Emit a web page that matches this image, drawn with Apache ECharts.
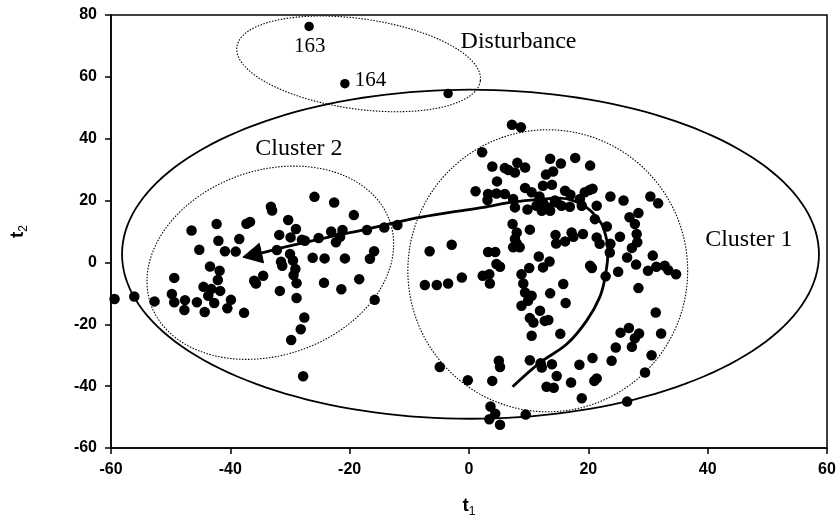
<!DOCTYPE html>
<html>
<head>
<meta charset="UTF-8">
<title>t1 / t2 score plot</title>
<script src="https://cdn.jsdelivr.net/npm/echarts@6/dist/echarts.min.js"></script>
<style>
  html, body { margin: 0; padding: 0; background: #fff; }
  #chart { width: 840px; height: 522px; }
</style>
</head>
<body>
<div id="chart"></div>
<script>
// tick labels
const xTicks = [-60, -40, -20, 0, 20, 40, 60];
const yTicks = [-60, -40, -20, 0, 20, 40, 60, 80];

// scores [t1, t2]
const disturbancePoints = [[-26.8, 76.3], [-20.8, 57.8], [-3.5, 54.6]];

const cluster2Points = [
  [-59.4, -11.8], [-56.1, -11.0], [-52.7, -12.6],
  [-46.5, 10.3], [-42.3, 12.4], [-37.3, 12.5], [-36.7, 13.1],
  [-42.0, 7.0], [-38.5, 7.6], [-45.2, 4.1], [-40.9, 3.6], [-39.1, 3.5],
  [-43.4, -1.3], [-41.8, -2.7], [-42.1, -5.7], [-49.4, -5.0],
  [-44.5, -7.9], [-43.2, -8.6], [-41.7, -9.2], [-43.7, -10.8],
  [-49.8, -10.2], [-49.4, -12.9], [-47.6, -12.2], [-45.6, -12.9],
  [-47.7, -15.4], [-44.3, -16.0], [-42.7, -13.1], [-39.9, -12.1], [-40.5, -14.8], [-37.7, -16.3],
  [-36.0, -5.9], [-35.7, -6.8], [-34.5, -4.3],
  [-25.9, 21.2], [-22.6, 19.4], [-33.2, 18.0], [-33.0, 16.8], [-19.3, 15.3],
  [-30.3, 13.7], [-29.0, 10.8], [-31.8, 8.9], [-29.9, 8.1], [-28.0, 7.3], [-27.5, 7.0],
  [-25.2, 7.9], [-23.1, 10.0], [-21.2, 10.5], [-22.3, 6.5], [-21.6, 8.3],
  [-17.1, 10.5], [-14.2, 11.3], [-12.0, 12.1],
  [-32.2, 4.0], [-30.0, 2.7], [-29.5, 0.6], [-31.5, 0.2], [-31.3, -1.1],
  [-26.2, 1.5], [-24.2, 1.3], [-20.8, 1.3], [-15.9, 3.6], [-16.6, 1.2],
  [-29.1, -2.1], [-29.4, -4.1], [-28.9, -6.7], [-24.3, -6.6], [-18.4, -5.4],
  [-21.4, -8.7], [-31.7, -9.2], [-28.9, -11.5], [-15.8, -12.1],
  [-27.6, -17.8], [-28.2, -21.6], [-29.8, -25.1], [-27.8, -36.8]
];

const cluster1Points = [
  [7.2, 44.5], [8.7, 43.7], [2.2, 35.6], [3.9, 31.0], [6.0, 30.5], [6.6, 29.9],
  [8.1, 32.2], [9.4, 30.7], [7.7, 29.1], [13.6, 33.5], [14.1, 29.4], [12.9, 28.4],
  [4.7, 26.2], [12.4, 24.8], [13.9, 25.1], [1.1, 23.0], [3.2, 22.1], [4.6, 22.3], [6.0, 22.1],
  [3.1, 20.2], [9.4, 24.1], [10.5, 22.7], [7.4, 20.5], [7.7, 17.8],
  [11.8, 21.3], [12.4, 19.4], [11.3, 18.3], [13.3, 17.8], [12.2, 16.7], [14.4, 20.0], [13.6, 16.7],
  [9.8, 17.1], [7.3, 12.4], [10.2, 10.6], [8.0, 9.7], [7.7, 7.6], [7.4, 4.9], [8.5, 4.9], [8.0, 6.1],
  [14.5, 8.9], [14.6, 6.1], [-6.6, 3.6], [-2.9, 5.7], [3.2, 3.4], [4.4, 3.4], [4.6, -0.5], [5.2, -1.4],
  [11.7, 1.9], [13.5, 0.3], [10.1, -1.8], [12.4, -1.6],
  [15.4, 32.0], [17.8, 33.8], [20.3, 31.3], [16.1, 23.2], [17.0, 21.9], [20.2, 23.4], [20.7, 23.8], [19.4, 22.7],
  [23.7, 21.3], [25.9, 20.0], [30.4, 21.3], [31.7, 19.1],
  [14.7, 19.4], [15.5, 18.3], [16.9, 18.0], [18.6, 20.5], [18.9, 18.3], [21.4, 18.3],
  [21.1, 14.0], [23.1, 11.6], [28.4, 16.0], [26.9, 14.6], [27.8, 12.4],
  [17.2, 9.7], [19.1, 9.2], [16.1, 6.8], [17.5, 8.3],
  [21.4, 8.1], [21.9, 6.0], [23.7, 6.0], [23.6, 3.2], [25.3, 8.3],
  [28.1, 9.2], [28.2, 6.5], [27.3, 4.7], [26.5, 1.6], [30.8, 2.2], [28.0, -0.7],
  [20.3, -1.1], [20.6, -1.8], [22.9, -4.5], [25.0, -3.0],
  [30.0, -2.7], [31.4, -1.4], [32.8, -1.1], [33.4, -2.5], [34.7, -3.8],
  [-7.4, -7.3], [-5.4, -7.3], [-3.5, -6.8], [-1.2, -4.9],
  [2.3, -4.3], [3.4, -3.8], [3.5, -6.8], [8.8, -3.8], [9.1, -6.8],
  [9.4, -9.7], [10.5, -10.8], [9.9, -12.4], [8.8, -14.0], [13.6, -10.0],
  [11.9, -15.6], [10.2, -18.0], [10.8, -19.4], [12.7, -18.9], [13.3, -18.6],
  [10.5, -23.7], [15.3, -23.1], [5.0, -31.8], [5.2, -33.8], [-4.9, -33.8], [-0.2, -38.1], [3.9, -38.3],
  [10.2, -31.6], [12.0, -32.6], [12.2, -34.0], [13.9, -32.9], [14.7, -36.7], [13.0, -40.2], [14.2, -40.5],
  [3.6, -46.6], [4.4, -48.9], [3.4, -50.7], [5.2, -52.5], [9.5, -49.2],
  [15.8, -7.0], [16.2, -13.1], [28.4, -8.3], [31.3, -16.2],
  [25.4, -22.7], [26.8, -21.2], [28.5, -23.0], [27.8, -24.5], [27.3, -27.3],
  [32.2, -23.0], [24.6, -27.5], [23.9, -31.8], [30.6, -30.0], [20.7, -30.9], [18.5, -33.1],
  [17.1, -38.8], [21.0, -38.3], [21.4, -37.5], [18.9, -43.9], [29.5, -35.6], [26.5, -45.0]
];

// trajectory drawn as arrow (last entry is the arrow base, tip is separate)
const trajectory = [
  [7.3, -40.2], [11.9, -32.4], [16.4, -26.4], [19.7, -18.9], [21.9, -11.3], [22.8, -4.9],
  [23.3, 3.8], [22.5, 11.3], [21.4, 14.6], [19.7, 17.8], [17.5, 20.0], [15.2, 20.8],
  [10.8, 20.2], [6.9, 19.4], [2.4, 17.8], [-3.2, 16.2], [-8.8, 14.4], [-17.1, 10.8],
  [-23.3, 8.3], [-31.1, 4.9], [-35.3, 2.8]
];
const arrowTip = [-37.9, 1.7];

// ellipses: centre t1, centre t2, half width (t1 units), half height (t2 units), tilt deg, dotted
const ellipses = [
  [0.25, 2.65, 58.4, 53.2, 0, 0],
  [-18.5, 64.2, 20.6, 14.6, -8, 1],
  [-33.3, -0.1, 21.2, 29.9, 19, 1],
  [13.2, -2.7, 23.45, 45.6, 0, 1]
];

// text annotations
const annotations = [
  { name: 'Disturbance', value: [8.3, 71.4], size: 24 },
  { name: 'Cluster 2', value: [-28.5, 36.8], size: 24 },
  { name: 'Cluster 1', value: [46.9, 7.5], size: 24 },
  { name: '163', value: [-26.7, 69.8], size: 21 },
  { name: '164', value: [-16.5, 58.8], size: 21 }
];

const chart = echarts.init(document.getElementById('chart'));

function ellipsePoints(api, cx, cy, rx, ry, deg) {
  const c = api.coord([cx, cy]);
  const s = api.size([rx, ry]);
  const a = deg * Math.PI / 180;
  const pts = [];
  for (let i = 0; i <= 180; i++) {
    const t = i / 180 * Math.PI * 2;
    const px = s[0] * Math.cos(t), py = s[1] * Math.sin(t);
    pts.push([c[0] + px * Math.cos(a) + py * Math.sin(a), c[1] - px * Math.sin(a) + py * Math.cos(a)]);
  }
  return pts;
}

const nameRich = {
  t: { fontFamily: 'Liberation Sans', fontWeight: 'bold', fontSize: 19, color: '#000', lineHeight: 24, verticalAlign: 'middle' },
  s: { fontFamily: 'Liberation Sans', fontSize: 12, color: '#000', lineHeight: 14, verticalAlign: 'bottom' }
};

const tickFont = { color: '#000', fontFamily: 'Liberation Sans', fontWeight: 'bold', fontSize: 16 };

const axisCommon = {
  type: 'value',
  nameLocation: 'middle',
  splitLine: { show: false },
  axisLine: { onZero: false, lineStyle: { color: '#000', width: 1.5 } },
  axisTick: { show: true, length: 6, lineStyle: { color: '#000', width: 1.5 } }
};

const dotStyle = { color: '#000', opacity: 1 };

const option = {
  animation: false,
  backgroundColor: '#fff',
  grid: {
    left: 111, right: 13, top: 15, bottom: 74,
    show: true, borderColor: '#000', borderWidth: 1.5,
    containLabel: false, outerBoundsMode: 'none'
  },
  xAxis: Object.assign({}, axisCommon, {
    min: -60, max: 60, interval: 20,
    axisTick: Object.assign({}, axisCommon.axisTick, { customValues: xTicks }),
    axisLabel: Object.assign({ customValues: xTicks, margin: 14 }, tickFont),
    name: '{t|t}{s|1}', nameGap: 46,
    nameTextStyle: { rich: nameRich }
  }),
  yAxis: Object.assign({}, axisCommon, {
    min: -60, max: 80, interval: 20,
    axisTick: Object.assign({}, axisCommon.axisTick, { customValues: yTicks }),
    axisLabel: Object.assign({ customValues: yTicks, margin: 14 }, tickFont),
    name: '{t|t}{s|2}', nameGap: 81,
    nameTextStyle: { rich: nameRich }
  }),
  series: [
    {
      type: 'custom',
      name: 'ellipses',
      data: ellipses,
      silent: true,
      z: 1,
      renderItem: function (params, api) {
        const pts = ellipsePoints(api, api.value(0), api.value(1), api.value(2), api.value(3), api.value(4));
        const dotted = api.value(5) === 1;
        return {
          type: 'polyline',
          shape: { points: pts },
          style: {
            fill: 'none',
            stroke: '#000',
            lineWidth: dotted ? 1.1 : 1.8,
            lineDash: dotted ? [1.5, 1.5] : null
          }
        };
      }
    },
    {
      type: 'line',
      name: 'trajectory',
      data: trajectory,
      smooth: 0.35,
      symbol: 'none',
      silent: true,
      z: 2,
      lineStyle: { color: '#000', width: 2.8, opacity: 1 }
    },
    {
      type: 'custom',
      name: 'arrowhead',
      data: [[arrowTip[0], arrowTip[1], trajectory[trajectory.length - 1][0], trajectory[trajectory.length - 1][1]]],
      silent: true,
      z: 3,
      renderItem: function (params, api) {
        const tip = api.coord([api.value(0), api.value(1)]);
        const from = api.coord([api.value(2), api.value(3)]);
        const dx = tip[0] - from[0], dy = tip[1] - from[1];
        const len = Math.sqrt(dx * dx + dy * dy);
        const ux = dx / len, uy = dy / len;
        const L = 19, W = 10;
        const bx = tip[0] - ux * L, by = tip[1] - uy * L;
        return {
          type: 'polygon',
          shape: { points: [tip, [bx - uy * W, by + ux * W], [bx + uy * W, by - ux * W]] },
          style: { fill: '#000', stroke: '#000', lineWidth: 1 }
        };
      }
    },
    {
      type: 'scatter',
      name: 'cluster 1',
      data: cluster1Points,
      symbolSize: 10.5,
      z: 4,
      itemStyle: dotStyle
    },
    {
      type: 'scatter',
      name: 'cluster 2',
      data: cluster2Points,
      symbolSize: 10.5,
      z: 4,
      itemStyle: dotStyle
    },
    {
      type: 'scatter',
      name: 'disturbance',
      data: disturbancePoints,
      symbolSize: 9.5,
      z: 4,
      itemStyle: dotStyle
    },
    {
      type: 'scatter',
      name: 'labels',
      data: annotations.map(a => ({ name: a.name, value: a.value, label: { fontSize: a.size } })),
      symbolSize: 0,
      silent: true,
      z: 5,
      itemStyle: { opacity: 1 },
      label: {
        show: true,
        position: 'inside',
        formatter: '{b}',
        color: '#000',
        opacity: 1,
        fontFamily: 'Liberation Serif'
      }
    }
  ]
};

chart.setOption(option);
window.addEventListener('resize', () => chart.resize());
</script>
</body>
</html>
